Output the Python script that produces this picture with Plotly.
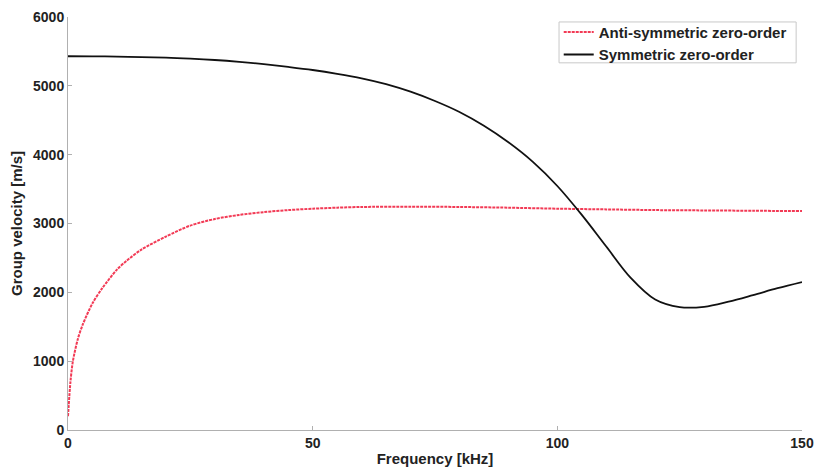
import plotly.graph_objects as go

# Lamb-wave group velocity dispersion, zero-order modes
freq_s = [0, 5, 10, 15, 20, 25, 30, 35, 40, 45, 50, 55, 60, 65, 70, 75, 80, 85,
          90, 95, 100, 105, 110, 115, 120, 125, 130, 135, 140, 145, 150]
vel_s = [5430, 5428, 5425, 5418, 5410, 5395, 5375, 5348, 5315, 5275, 5230, 5175,
         5110, 5025, 4915, 4780, 4620, 4420, 4180, 3895, 3545, 3125, 2665, 2210,
         1895, 1785, 1790, 1865, 1960, 2060, 2150]

freq_a = [0, 0.5, 1, 2, 3, 5, 7, 10, 12, 15, 20, 25, 30, 35, 40, 45, 50, 55, 60,
          70, 80, 90, 100, 110, 120, 130, 140, 150]
vel_a = [200, 700, 1000, 1320, 1530, 1840, 2060, 2330, 2460, 2620, 2810, 2970,
         3065, 3125, 3165, 3195, 3215, 3230, 3240, 3245, 3240, 3230, 3215, 3205,
         3195, 3190, 3185, 3180]

x_ticks = [0, 50, 100, 150]
y_ticks = [0, 1000, 2000, 3000, 4000, 5000, 6000]

FAMILY = "Liberation Sans, Arial, sans-serif"
tick_font = dict(family=FAMILY, size=14, color="#222222", weight="bold")
title_font = dict(family=FAMILY, size=15, color="#222222", weight="bold")

fig = go.Figure()
fig.add_trace(go.Scatter(
    x=freq_a, y=vel_a, mode="lines", name="Anti-symmetric zero-order",
    line=dict(color="#f23a55", width=2, dash="3px,1px", shape="spline", smoothing=0.8),
))
fig.add_trace(go.Scatter(
    x=freq_s, y=vel_s, mode="lines", name="Symmetric zero-order",
    line=dict(color="#111111", width=1.8, shape="spline", smoothing=1.0),
))

axis_common = dict(
    showgrid=False, zeroline=False, showline=True, linecolor="#b0b0b0",
    linewidth=1, ticks="inside", ticklen=4, tickcolor="#b0b0b0",
    tickfont=tick_font, title_font=title_font, mirror=False, automargin=False,
)

# thin frame around the legend entries
fig.add_shape(
    type="rect", xref="paper", yref="paper",
    x0=0.669, x1=0.992, y0=0.889, y1=0.988,
    line=dict(color="#c8c8c8", width=1), fillcolor="rgba(0,0,0,0)", layer="above",
)

fig.update_layout(
    width=815, height=468,
    margin=dict(l=68, r=13, t=17, b=38),
    paper_bgcolor="white", plot_bgcolor="white",
    font=tick_font,
    xaxis=dict(range=[0, 150], tickvals=x_ticks,
               title=dict(text="Frequency [kHz]", standoff=3), **axis_common),
    yaxis=dict(range=[0, 6000], tickvals=y_ticks,
               title=dict(text="Group velocity [m/s]", standoff=6), **axis_common),
    legend=dict(
        x=0.986, y=1.003, xanchor="right", yanchor="top",
        bgcolor="rgba(0,0,0,0)", borderwidth=0,
        font=title_font, tracegroupgap=0, itemwidth=30,
    ),
    showlegend=True,
)

fig.write_html("out.html")
